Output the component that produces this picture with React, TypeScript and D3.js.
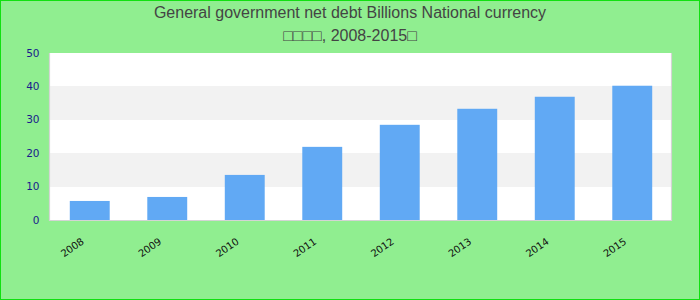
import React from "react";
import * as d3 from "d3";

const years = ["2008", "2009", "2010", "2011", "2012", "2013", "2014", "2015"];
const debt = [5.7, 6.9, 13.5, 21.9, 28.5, 33.3, 36.9, 40.2];
const yTicks = [0, 10, 20, 30, 40, 50];
const titleLine1 = "General government net debt Billions National currency";
const titleLine2 = "\u25A1\u25A1\u25A1\u25A1, 2008-2015\u25A1";

export default function App() {
  const W = 700, H = 300;
  const left = 50, right = 671, top = 53, bottom = 220;
  const x = d3.scaleBand<string>().domain(years).range([left + 1, right]).paddingInner(0.485).paddingOuter(0.2425);
  const y = d3.scaleLinear().domain([0, 50]).range([bottom, top]);
  const bands = yTicks.slice(0, -1).map((t, i) => ({ t, next: yTicks[i + 1], grey: i % 2 === 1 }));
  return (
    <div style={{ position: "fixed", left: 0, top: 0 }}>
      <svg width={W} height={H} style={{ display: "block" }}>
        <rect x={0.5} y={0.5} width={W - 1} height={H - 1} fill="#90ee90" stroke="#11e011" strokeWidth={1} />
        <text x={350} y={18.3} textAnchor="middle" fontFamily="Liberation Sans, Arial, sans-serif" fontSize={16} fill="#444">{titleLine1}</text>
        <text x={350} y={40.7} textAnchor="middle" fontFamily="Liberation Sans, Arial, sans-serif" fontSize={16} fill="#444">{titleLine2}</text>
        {bands.map((b) => (
          <rect key={b.t} x={left} y={Math.round(y(b.next))} width={right - left} height={Math.round(y(b.t)) - Math.round(y(b.next))} fill={b.grey ? "#f2f2f2" : "#ffffff"} shapeRendering="crispEdges" />
        ))}
        {years.map((yr, i) => (
          <rect key={yr} x={x(yr)} y={y(debt[i])} width={x.bandwidth()} height={bottom - y(debt[i])} fill="#61a9f4" />
        ))}
        <path d={`M${left - 0.5},${top}V${bottom + 0.5}H${right + 0.5}V${top}`} fill="none" stroke="#d4d4d4" strokeWidth={1.2} />
        {yTicks.map((t) => (
          <text key={t} x={39.5} y={y(t)} dy="0.35em" textAnchor="end" fontFamily="DejaVu Sans, sans-serif" fontSize={10.5} fill="#1a1a8c">{t}</text>
        ))}
        {years.map((yr) => {
          const cx = (x(yr) as number) + x.bandwidth() / 2;
          return (
            <text key={yr} transform={`translate(${cx - 5},${243}) rotate(-35)`} textAnchor="end" fontFamily="DejaVu Sans, sans-serif" fontSize={10} fill="#111">{yr}</text>
          );
        })}
      </svg>
    </div>
  );
}
